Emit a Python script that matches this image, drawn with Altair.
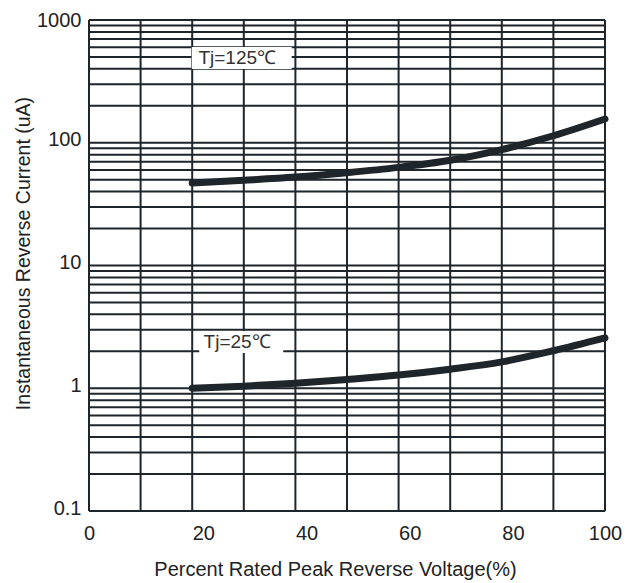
import altair as alt
import pandas as pd

# Data
x_125 = [20, 30, 40, 50, 60, 70, 80, 90, 100]
y_125 = [47, 49.5, 52.5, 57, 63, 72, 88, 114, 156]
x_25 = [20, 30, 40, 50, 60, 70, 80, 90, 100]
y_25 = [1.0, 1.04, 1.1, 1.18, 1.28, 1.43, 1.64, 2.02, 2.57]

x_grid = [0, 10, 20, 30, 40, 50, 60, 70, 80, 90, 100]
y_grid = [0.1, 0.2, 0.3, 0.4, 0.5, 0.6, 0.7, 0.8, 0.9,
          1, 2, 3, 4, 5, 6, 7, 8, 9,
          10, 20, 30, 40, 50, 60, 70, 80, 90,
          100, 200, 300, 400, 500, 600, 700, 800, 900, 1000]
x_ticks = [0, 20, 40, 60, 80, 100]
y_ticks = [0.1, 1, 10, 100, 1000]

label_text = ["Tj=125℃", "Tj=25℃"]
label_x = [21.2, 22.2]
label_y = [490, 2.38]
box_x = [29.6, 29.5]
box_size = [10000, 7056]
box_shape = ["M-1,-0.22L1,-0.22L1,0.22L-1,0.22Z", "M-1,-0.262L1,-0.262L1,0.262L-1,0.262Z"]

INK = "#1e252b"
FONT = "Liberation Sans"

curves = pd.DataFrame({
    "x": x_125 + x_25,
    "y": y_125 + y_25,
    "series": ["125"] * len(x_125) + ["25"] * len(x_25),
})
labels = pd.DataFrame({"x": label_x, "y": label_y, "text": label_text,
                       "bx": box_x, "size": box_size, "shape": box_shape})

xs = alt.Scale(domain=[0, 100], nice=False, zero=False)
ys = alt.Scale(type="log", domain=[0.1, 1000], nice=False)

vgrid = alt.Chart(pd.DataFrame({"x": x_grid})).mark_rule(color=INK, strokeWidth=2).encode(
    x=alt.X("x:Q", scale=xs,
            axis=alt.Axis(values=x_ticks, title="Percent Rated Peak Reverse Voltage(%)",
                          grid=False, domain=False, ticks=False, labelPadding=12,
                          labelAlign={"condition": {"test": "datum.value > 0 && datum.value < 100",
                                                    "value": "left"}, "value": "center"},
                          labelFontSize=20, titleFontSize=20, titlePadding=16, titleX=246,
                          labelColor="#222", titleColor="#222",
                          titleFontWeight="normal", labelFont=FONT, titleFont=FONT))
)

hgrid = alt.Chart(pd.DataFrame({"y": y_grid})).mark_rule(color=INK, strokeWidth=2).encode(
    y=alt.Y("y:Q", scale=ys,
            axis=alt.Axis(values=y_ticks, format="~g", title="Instantaneous Reverse Current (uA)",
                          grid=False, domain=False, ticks=False, labelPadding=8,
                          labelFontSize=20, titleFontSize=19.5, titleX=-56, titleY=233,
                          labelColor="#222", titleColor="#222",
                          labelOffset={"condition": {"test": "datum.value >= 1000", "value": 0},
                                       "value": -3},
                          titleFontWeight="normal", labelFont=FONT, titleFont=FONT))
)

boxes = alt.Chart(labels).mark_point(filled=True, color="white", opacity=1).encode(
    x=alt.X("bx:Q", scale=xs),
    y=alt.Y("y:Q", scale=ys),
    size=alt.Size("size:Q", scale=None),
    shape=alt.Shape("shape:N", scale=None),
)

texts = alt.Chart(labels).mark_text(
    fontSize=19, color="#333", font=FONT, align="left", baseline="middle"
).encode(
    x=alt.X("x:Q", scale=xs),
    y=alt.Y("y:Q", scale=ys),
    text="text:N",
)

lines = alt.Chart(curves).mark_line(
    color=INK, strokeWidth=7, interpolate="monotone", strokeCap="round", strokeJoin="round"
).encode(
    x=alt.X("x:Q", scale=xs),
    y=alt.Y("y:Q", scale=ys),
    detail="series:N",
)

chart = alt.layer(vgrid, hgrid, boxes, texts, lines).properties(
    width=516, height=491,
    autosize=alt.AutoSizeParams(type="none"),
    padding={"left": 81, "top": 12, "right": 24, "bottom": 72},
).configure_view(stroke=None).configure(background="white")

chart.save("out.html", embed_options={"renderer": "svg", "actions": False})
